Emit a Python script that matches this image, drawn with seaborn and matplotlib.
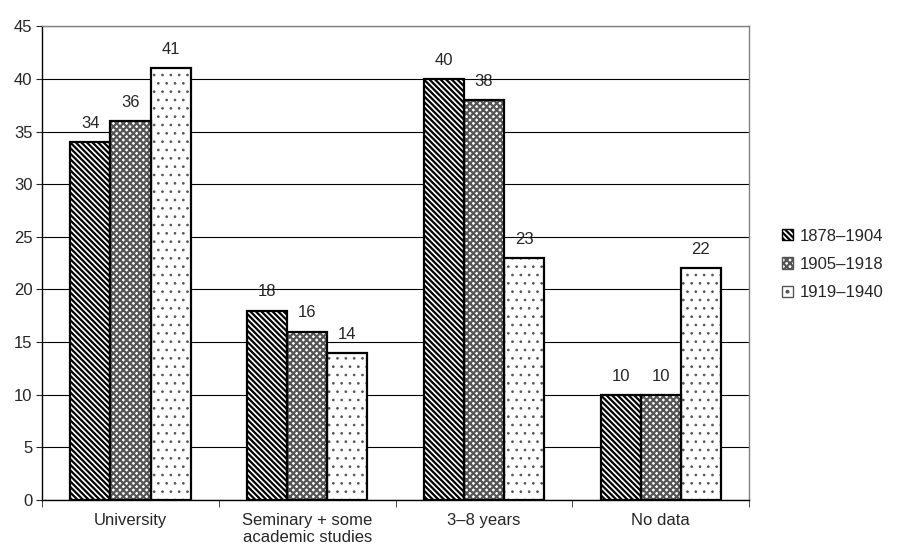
import pandas as pd
import seaborn as sns
import matplotlib.pyplot as plt
from matplotlib.patches import Patch

categories = ["University", "Seminary + some\nacademic studies", "3\u20138 years", "No data"]
periods = ["1878\u20131904", "1905\u20131918", "1919\u20131940"]
values_1878 = [34, 18, 40, 10]
values_1905 = [36, 16, 38, 10]
values_1919 = [41, 14, 23, 22]

df = pd.DataFrame({
    "category": categories * 3,
    "period": [periods[0]] * 4 + [periods[1]] * 4 + [periods[2]] * 4,
    "value": values_1878 + values_1905 + values_1919,
})

sns.set_style("white")
plt.rcParams['font.family'] = ['Liberation Sans', 'DejaVu Sans']
plt.rcParams['hatch.linewidth'] = 1.6

fig = plt.figure(figsize=(8.97, 5.59), dpi=100)
ax = fig.add_axes([0.047, 0.1055, 0.788, 0.8475])

fs = 12
hatches = ['\\\\\\\\\\\\', 'xxxxx', '..']
hatch_colors = ['black', '#555555', '#555555']
hatch_widths = [1.6, 1.6, 0.7]
ax.yaxis.grid(True, color='black', linewidth=0.8)
ax.set_axisbelow(True)
sns.barplot(data=df, x="category", y="value", hue="period", order=categories,
            hue_order=periods, width=0.68, palette=['white'] * 3,
            edgecolor='black', linewidth=1.6, legend=False, ax=ax)


def style_patch(p, i):
    p.set_hatch(hatches[i])
    if hasattr(p, 'set_hatch_linewidth'):
        p.set_hatch_linewidth(hatch_widths[i])
    p.set_edgecolor(hatch_colors[i])


for i, container in enumerate(ax.containers):
    for bar in container:
        style_patch(bar, i)
        if i > 0:
            # hatch takes the edge colour, so redraw a black outline on top
            bar.set_linewidth(0)
            ax.add_patch(plt.Rectangle(bar.get_xy(), bar.get_width(), bar.get_height(),
                                       fill=False, edgecolor='black', linewidth=1.6, zorder=3))
    ax.bar_label(container, padding=8, fontsize=fs)

ax.set_ylim(0, 45)
ax.set_yticks(range(0, 46, 5))
ax.set_xlim(-0.5, 3.5)
ax.set_xlabel("")
ax.set_ylabel("")
ax.tick_params(axis='y', direction='out', length=4, left=True, labelsize=fs, pad=3)
ax.tick_params(axis='x', which='major', length=0, labelsize=fs, pad=9)
ax.set_xticks([-0.5, 0.5, 1.5, 2.5, 3.5], minor=True)
ax.tick_params(axis='x', which='minor', direction='out', length=5, bottom=True)

for side in ['left', 'bottom']:
    ax.spines[side].set_color('black')
    ax.spines[side].set_linewidth(1.0)
for side in ['top', 'right']:
    ax.spines[side].set_color('#808080')
    ax.spines[side].set_linewidth(1.0)

handles = []
for i, p in enumerate(periods):
    h = Patch(facecolor='white', label=p)
    style_patch(h, i)
    handles.append(h)
fig.legend(handles=handles, loc='center left', bbox_to_anchor=(0.872, 0.527),
           frameon=False, fontsize=fs, handlelength=0.65, handleheight=0.65,
           handletextpad=0.4, labelspacing=0.8, borderpad=0, borderaxespad=0)

fig.savefig("out.png", dpi=100)
